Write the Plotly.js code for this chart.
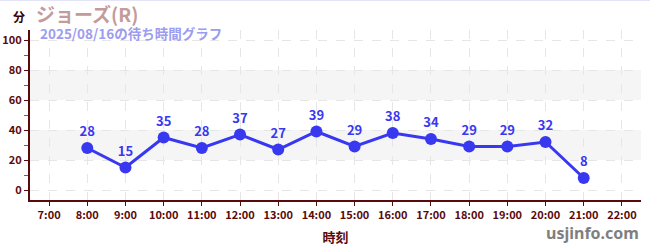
<!DOCTYPE html>
<html>
<head>
<meta charset="utf-8">
<script src="https://cdn.plot.ly/plotly-3.0.1.min.js"></script>
<style>html,body{margin:0;padding:0;background:#fff;}#chart{width:650px;height:250px;}</style>
</head>
<body>
<div id="chart"></div>
<script>
const hours = [8, 9, 10, 11, 12, 13, 14, 15, 16, 17, 18, 19, 20, 21];
const waits = [28, 15, 35, 28, 37, 27, 39, 29, 38, 34, 29, 29, 32, 8];
const tickHours = [7, 8, 9, 10, 11, 12, 13, 14, 15, 16, 17, 18, 19, 20, 21, 22];
const tickLabels = tickHours.map(h => h + ":00");
const bands = [[20, 40], [60, 80]];

const FONT = '"Noto Sans CJK JP", "Noto Sans", sans-serif';
const AXC = '#5a0a0a';

const shapes = bands.map(b => ({
  type: 'rect', xref: 'paper', yref: 'y', x0: 0, x1: 1, y0: b[0], y1: b[1],
  fillcolor: '#f5f5f5', line: {width: 0}, layer: 'below'
}));
shapes.push({type: 'line', xref: 'paper', yref: 'paper', x0: -0.1, x1: 1.1, y0: 1.176, y1: 1.176,
  line: {color: '#e4e4f8', width: 2}});

const trace = {
  x: hours, y: waits, type: 'scatter', mode: 'lines+markers+text',
  text: waits.map(String), textposition: 'top center',
  textfont: {family: FONT, size: 13, color: '#3838f0', weight: 'bold'},
  line: {color: '#3838f0', width: 3},
  marker: {color: '#3838f0', size: 12},
  cliponaxis: false, hoverinfo: 'none'
};

const layout = {
  width: 650, height: 250,
  margin: {l: 30, r: 9, t: 30, b: 50},
  paper_bgcolor: '#fff', plot_bgcolor: '#fff',
  showlegend: false,
  font: {family: FONT, color: AXC},
  shapes: shapes,
  xaxis: {
    range: [6.5, 22.5], tickvals: tickHours, ticktext: tickLabels,
    showline: true, linecolor: AXC, linewidth: 2, mirror: false,
    ticks: 'outside', ticklen: 4, tickcolor: AXC,
    tickfont: {family: FONT, size: 11, color: AXC, weight: 'bold'},
    showgrid: true, gridcolor: '#e6e6e6', griddash: 'dash', gridwidth: 1,
    zeroline: false,
    title: {text: '時刻', font: {family: FONT, size: 13, color: AXC, weight: 'bold'}, standoff: 12}
  },
  yaxis: {
    range: [-6.67, 106.67], tickvals: [0, 20, 40, 60, 80, 100],
    showline: true, linecolor: AXC, linewidth: 2,
    ticks: 'outside', ticklen: 4, tickcolor: AXC,
    tickfont: {family: FONT, size: 11, color: AXC, weight: 'bold'},
    showgrid: true, gridcolor: '#e6e6e6', griddash: 'dash', gridwidth: 1,
    zeroline: false,
    minor: {tickvals: [10, 30, 50, 70, 90], ticks: 'outside', ticklen: 4, tickcolor: '#e03030', showgrid: false}
  },
  annotations: [
    {text: 'ジョーズ(R)', xref: 'paper', yref: 'paper', x: 0.008, y: 1.095, xanchor: 'left', yanchor: 'middle',
     borderpad: 0, showarrow: false, font: {family: FONT, size: 19, color: '#c49a9a', weight: 'bold'}},
    {text: '2025/08/16の待ち時間グラフ', xref: 'paper', yref: 'paper', x: 0.015, y: 0.982, xanchor: 'left', yanchor: 'middle',
     borderpad: 0, showarrow: false, font: {family: FONT, size: 13.5, color: '#9c9cf0', weight: 'bold'}},
    {text: '分', xref: 'paper', yref: 'paper', x: -0.03, y: 1.08, xanchor: 'left', yanchor: 'middle',
     borderpad: 0, showarrow: false, font: {family: FONT, size: 12, color: '#3a0000', weight: 'bold'}},
    {text: 'usjinfo.com', xref: 'paper', yref: 'paper', x: 1.0, y: -0.194, xanchor: 'right', yanchor: 'middle',
     showarrow: false, font: {family: '"Noto Sans", "DejaVu Sans", sans-serif', size: 16, color: '#7f7f7f', weight: 'bold'}}
  ]
};

Plotly.newPlot('chart', [trace], layout, {staticPlot: true, displayModeBar: false});
</script>
</body>
</html>
